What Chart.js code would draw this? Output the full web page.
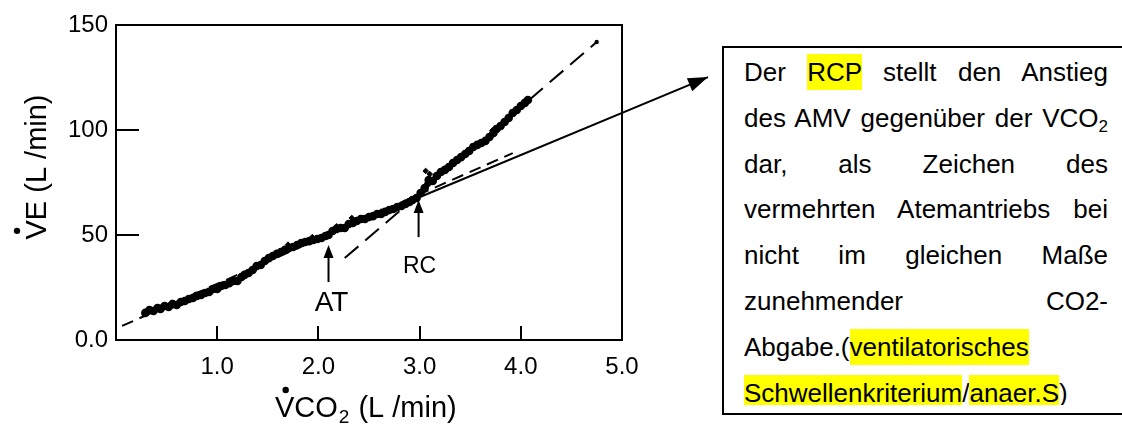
<!DOCTYPE html>
<html>
<head>
<meta charset="utf-8">
<script src="https://cdn.jsdelivr.net/npm/chart.js@4.4.1/dist/chart.umd.min.js"></script>
<style>
html,body{margin:0;padding:0;background:#fff;}
#wrap{position:relative;width:1122px;height:426px;overflow:hidden;background:#fff;}
#c{position:absolute;left:0;top:0;}
#box{position:absolute;left:722px;top:46px;width:430px;height:365px;border:2px solid #000;background:#fff;}
#txt{position:absolute;left:20px;top:2px;width:364px;height:355px;overflow:hidden;font-family:"Liberation Sans",Arial,sans-serif;font-size:26px;color:#000;}
.ln{height:45.8px;line-height:45.8px;white-space:nowrap;}
.j{text-align:justify;text-align-last:justify;}
.hl{background:#ffff00;padding:3px 0;}
sub{font-size:17px;vertical-align:-5px;line-height:0;}
</style>
</head>
<body>
<div id="wrap">
<canvas id="c" width="1122" height="426"></canvas>
<div id="box"><div id="txt">
<div class="ln j">Der <span class="hl">RCP</span> stellt den Anstieg</div>
<div class="ln j">des AMV gegenüber der VCO<sub>2</sub></div>
<div class="ln j">dar, als Zeichen des</div>
<div class="ln j">vermehrten Atemantriebs bei</div>
<div class="ln j">nicht im gleichen Maße</div>
<div class="ln j">zunehmender CO2-</div>
<div class="ln">Abgabe.(<span class="hl">ventilatorisches</span></div>
<div class="ln"><span class="hl">Schwellenkriterium</span>/<span class="hl">anaer.S</span>)</div>
</div></div>
</div>
<script>
// ---- data ----
const vco2 = [0.29,0.33,0.37,0.41,0.44,0.48,0.52,0.56,0.60,0.64,0.68,0.72,0.76,0.80,0.84,0.88,0.92,0.96,1.00,1.04,
  1.08,1.12,1.16,1.20,1.24,1.27,1.31,1.35,1.39,1.43,1.47,1.51,1.55,1.59,1.63,1.67,1.71,1.75,1.79,1.83,
  1.87,1.91,1.95,1.99,2.03,2.07,2.10,2.14,2.18,2.22,2.26,2.30,2.34,2.38,2.42,2.46,2.50,2.54,2.58,2.62,
  2.66,2.70,2.74,2.78,2.82,2.86,2.90,2.93,2.97,3.01,3.05,3.09,3.13,3.17,3.21,3.25,3.29,3.33,3.37,3.41,
  3.45,3.49,3.53,3.57,3.61,3.65,3.69,3.73,3.76,3.80,3.84,3.88,3.92,3.96,4.00,4.04,4.07];
const ve = [12.9,14.3,13.8,15.2,14.8,16.2,15.7,17.1,16.7,18.1,18.6,19.5,20.0,21.0,21.4,22.4,22.9,24.3,24.3,25.7,
  26.2,27.1,28.1,28.1,30.0,31.0,31.9,33.3,35.2,35.7,37.6,39.0,40.0,41.0,41.9,42.9,43.8,44.3,45.2,46.2,
  46.7,47.1,47.6,48.1,48.6,49.5,50.0,51.9,52.9,53.3,53.3,55.2,55.7,56.7,57.6,57.6,58.6,59.0,60.0,60.0,
  61.0,61.9,62.4,63.3,63.8,64.8,65.7,66.7,67.6,70.0,72.4,76.2,75.7,78.1,80.0,81.0,82.4,84.3,85.7,87.1,
  88.6,90.0,91.9,92.9,93.8,94.8,96.7,98.6,100.5,101.9,103.8,105.7,108.1,109.5,111.4,112.9,114.3];
// small jagged blobs off the main band
const spikeX = [0.55,0.78,1.05,1.48,1.70,1.94,2.18,2.33,2.62,3.06,3.10,3.47,3.72];
const spikeY = [17.8,21.5,26.6,38.4,45.4,49.0,54.1,58.1,61.2,80.5,79.0,90.2,99.8];
// fitted lines
const lineAX = [0.06,3.92], lineAY = [6.7,89.0];
const lineBX = [2.26,4.75], lineBY = [39.0,141.9];
// annotation arrow from RC point to the text box
const rcArrowX = [2.98,5.85], rcArrowY = [67.6,125.2];
const atArrow = {x:2.10, y0:27.6, y1:45.2, labelX:2.13, labelY:17.6, label:'AT'};
const rcArrow = {x:2.99, y0:49.0, y1:66.7, labelX:3.00, labelY:34.8, label:'RC'};
// ticks
const xTicks = [1,2,3,4,5], xTickLabels = ['1.0','2.0','3.0','4.0','5.0'];
const yTicks = [0,50,100,150], yTickLabels = ['0.0','50','100','150'];
const yInnerTicks = [50,100], xInnerTicks = [1,2,3,4];
const xTitle = {v:'V', rest:'CO', sub:'2', tail:' (L /min)'};
const yTitle = 'VE (L /min)';

const FONT = '"Liberation Sans", Arial, sans-serif';
const pts = (xs, ys) => xs.map((x,i)=>({x:x, y:ys[i]}));

const deco = {
  id:'deco',
  afterDraw(chart){
    const {ctx, chartArea:a, scales:{x, y}} = chart;
    ctx.save();
    ctx.strokeStyle='#000'; ctx.fillStyle='#000';
    // frame
    ctx.lineWidth=2;
    ctx.strokeRect(a.left, a.top, a.right-a.left, a.bottom-a.top);
    // inner ticks
    ctx.beginPath();
    yInnerTicks.forEach(v=>{const py=Math.round(y.getPixelForValue(v)); ctx.moveTo(a.left,py); ctx.lineTo(a.left+23,py);});
    xInnerTicks.forEach(v=>{const px=Math.round(x.getPixelForValue(v)); ctx.moveTo(px,a.bottom); ctx.lineTo(px,a.bottom-14);});
    ctx.stroke();
    // arrow head helper
    function head(x0,y0,x1,y1,len,hw){
      const ang=Math.atan2(y1-y0,x1-x0);
      ctx.beginPath();
      ctx.moveTo(x1,y1);
      ctx.lineTo(x1-len*Math.cos(ang)+hw*Math.sin(ang), y1-len*Math.sin(ang)-hw*Math.cos(ang));
      ctx.lineTo(x1-len*Math.cos(ang)-hw*Math.sin(ang), y1-len*Math.sin(ang)+hw*Math.cos(ang));
      ctx.closePath(); ctx.fill();
    }
    // big arrow head
    const ax0=x.getPixelForValue(rcArrowX[0]), ay0=y.getPixelForValue(rcArrowY[0]);
    const ax1=x.getPixelForValue(rcArrowX[1]), ay1=y.getPixelForValue(rcArrowY[1]);
    head(ax0,ay0,ax1,ay1,20,7);
    // small arrows AT / RC
    [[atArrow,28],[rcArrow,23]].forEach(([o,fs])=>{
      const px=x.getPixelForValue(o.x), p0=y.getPixelForValue(o.y0), p1=y.getPixelForValue(o.y1);
      ctx.lineWidth=2;
      ctx.beginPath(); ctx.moveTo(px,p0); ctx.lineTo(px,p1+8); ctx.stroke();
      head(px,p0,px,p1,13,5);
      ctx.font=fs+'px '+FONT; ctx.textAlign='center'; ctx.textBaseline='middle';
      ctx.fillText(o.label, x.getPixelForValue(o.labelX), y.getPixelForValue(o.labelY));
    });
    // end dot on line B
    ctx.beginPath(); ctx.arc(x.getPixelForValue(lineBX[1]), y.getPixelForValue(lineBY[1]), 2.2, 0, Math.PI*2); ctx.fill();
    // x axis title
    ctx.textAlign='left'; ctx.textBaseline='alphabetic';
    ctx.font='29px '+FONT;
    let tx=275; const tb=417;
    const vw=ctx.measureText(xTitle.v).width;
    ctx.fillText(xTitle.v, tx, tb);
    ctx.beginPath(); ctx.arc(tx+vw/2+1, tb-27, 3.2, 0, Math.PI*2); ctx.fill();
    tx+=vw; ctx.fillText(xTitle.rest, tx, tb); tx+=ctx.measureText(xTitle.rest).width;
    ctx.font='19px '+FONT; ctx.fillText(xTitle.sub, tx+1, tb+6); tx+=ctx.measureText(xTitle.sub).width+2;
    ctx.font='29px '+FONT; ctx.fillText(xTitle.tail, tx, tb);
    // y axis title
    ctx.save();
    ctx.translate(46,167); ctx.rotate(-Math.PI/2);
    ctx.font='29px '+FONT; ctx.textAlign='center';
    const w=ctx.measureText(yTitle).width, v2=ctx.measureText('V').width;
    ctx.fillText(yTitle,0,0);
    ctx.beginPath(); ctx.arc(-w/2+v2/2-1, -29, 3.2, 0, Math.PI*2); ctx.fill();
    ctx.restore();
    ctx.restore();
  }
};

new Chart(document.getElementById('c'), {
  type:'scatter',
  data:{datasets:[
    {data:pts(vco2,ve), showLine:true, borderColor:'#000', backgroundColor:'#000', borderWidth:5, pointRadius:1.8, tension:0},
    {data:pts(spikeX,spikeY), showLine:false, backgroundColor:'#000', borderColor:'#000', pointRadius:2.8, pointStyle:'rectRot'},
    {data:pts(rcArrowX,rcArrowY), showLine:true, borderColor:'#000', borderWidth:2, pointRadius:0, clip:false},
    {data:pts(lineAX,lineAY), showLine:true, borderColor:'#000', borderWidth:2, borderDash:[12,7], pointRadius:0, clip:false},
    {data:pts(lineBX,lineBY), showLine:true, borderColor:'#000', borderWidth:2, borderDash:[18,9], pointRadius:0, clip:false}
  ]},
  options:{
    responsive:false, animation:false, devicePixelRatio:1,
    layout:{padding:{left:0, top:25, right:500, bottom:0}},
    plugins:{legend:{display:false}, tooltip:{enabled:false}},
    scales:{
      x:{type:'linear', min:0, max:5,
        afterBuildTicks:s=>{s.ticks=xTicks.map(v=>({value:v}));},
        afterFit:s=>{s.height=86;},
        grid:{display:false, drawTicks:false}, border:{display:false},
        ticks:{padding:13, color:'#000', font:{family:FONT, size:24}, maxRotation:0,
          callback:(v)=>{const i=xTicks.indexOf(v); return i>=0?xTickLabels[i]:'';}}},
      y:{type:'linear', min:0, max:150,
        afterBuildTicks:s=>{s.ticks=yTicks.map(v=>({value:v}));},
        afterFit:s=>{s.width=116;},
        grid:{display:false, drawTicks:false}, border:{display:false},
        ticks:{padding:8, color:'#000', font:{family:FONT, size:24},
          callback:(v)=>{const i=yTicks.indexOf(v); return i>=0?yTickLabels[i]:'';}}}
    }
  },
  plugins:[deco]
});
</script>
</body>
</html>
